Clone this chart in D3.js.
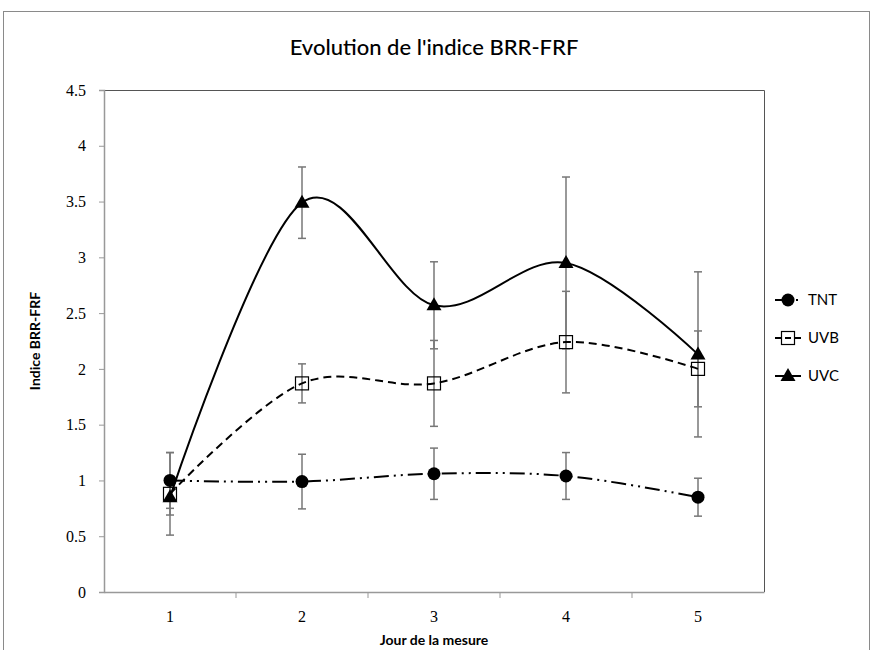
<html>
<head>
<title>Evolution de l'indice BRR-FRF</title>
<style>
  body { margin: 0; padding: 0; background: #fff; }
  .tick text { font-family: "Liberation Serif", "DejaVu Serif", serif; font-size: 16px; fill: #000; }
  .title { font-family: Lato, "Open Sans", sans-serif; font-size: 22px; font-weight: 500; fill: #000; }
  .axis-title { font-family: Lato, "Open Sans", sans-serif; font-size: 14px; font-weight: bold; fill: #000; }
  .legend text { font-family: Lato, "Open Sans", sans-serif; font-size: 15px; fill: #000; }
</style>
</head>
<body>
<div id="chart"></div>
<script src="https://d3js.org/d3.v7.min.js"></script>
<script>
const days = ["1", "2", "3", "4", "5"];
const yTicks = [0, 0.5, 1, 1.5, 2, 2.5, 3, 3.5, 4, 4.5];

const tntValues = [1.0, 0.99, 1.06, 1.04, 0.85];
const tntErrors = [0.25, 0.245, 0.23, 0.21, 0.17];
const uvbValues = [0.88, 1.87, 1.87, 2.24, 2.0];
const uvbErrors = [0.37, 0.175, 0.385, 0.455, 0.34];
const uvcValues = [0.85, 3.49, 2.57, 2.95, 2.13];
const uvcErrors = [0.16, 0.32, 0.39, 0.77, 0.74];

const series = [
  { name: "TNT", values: tntValues, errors: tntErrors, marker: "circle", dash: "15,5,2,5,2,5" },
  { name: "UVB", values: uvbValues, errors: uvbErrors, marker: "square", dash: "8,5" },
  { name: "UVC", values: uvcValues, errors: uvcErrors, marker: "triangle", dash: null }
];

const W = 873, H = 650;
const plotLeft = 104, plotRight = 764, plotTop = 90, plotBottom = 592;

const svg = d3.select("#chart").append("svg")
  .attr("width", W).attr("height", H);

// outer frame
svg.append("rect")
  .attr("x", 3.5).attr("y", 11.5)
  .attr("width", 866).attr("height", 660)
  .attr("fill", "none").attr("stroke", "#8a8a8a").attr("stroke-width", 1);

const x = d3.scaleBand().domain(days).range([plotLeft, plotRight]);
const cx = d => x(d) + x.bandwidth() / 2;
const y = d3.scaleLinear().domain([0, 4.5]).range([plotBottom, plotTop]);

// plot area border (top + right)
svg.append("path")
  .attr("d", `M${plotLeft},${plotTop + 0.5}H${plotRight + 0.5}V${plotBottom}`)
  .attr("fill", "none").attr("stroke", "#555").attr("stroke-width", 1);

// y axis
const yAxis = svg.append("g")
  .attr("transform", `translate(${plotLeft},0)`)
  .call(d3.axisLeft(y).tickValues(yTicks).tickSize(5).tickPadding(13).tickFormat(d3.format("")));
yAxis.select(".domain").attr("stroke", "#999").attr("stroke-width", 1.5);
yAxis.selectAll(".tick line").attr("stroke", "#999");

// x axis: ticks at category boundaries
const xAxis = svg.append("g")
  .attr("transform", `translate(0,${plotBottom})`)
  .call(d3.axisBottom(x).tickSize(0).tickPadding(19));
xAxis.select(".domain").attr("stroke", "#999").attr("stroke-width", 1.5);
xAxis.selectAll(".bound").data(days.slice(1))
  .enter().append("line")
  .attr("x1", d => x(d)).attr("x2", d => x(d))
  .attr("y1", 0).attr("y2", 6)
  .attr("stroke", "#999");

// titles
svg.append("text").attr("class", "title")
  .attr("x", 434).attr("y", 55).attr("text-anchor", "middle")
  .text("Evolution de l'indice BRR-FRF");
svg.append("text").attr("class", "axis-title")
  .attr("x", 434).attr("y", 645).attr("text-anchor", "middle")
  .text("Jour de la mesure");
svg.append("text").attr("class", "axis-title")
  .attr("transform", `translate(40,${(plotTop + plotBottom) / 2}) rotate(-90)`)
  .attr("text-anchor", "middle")
  .text("Indice BRR-FRF");

// error bars
series.forEach(s => {
  const g = svg.append("g");
  days.forEach((d, i) => {
    const hi = y(s.values[i] + s.errors[i]);
    const lo = y(s.values[i] - s.errors[i]);
    g.append("line").attr("x1", cx(d)).attr("x2", cx(d)).attr("y1", hi).attr("y2", lo)
      .attr("stroke", "#777").attr("stroke-width", 1.5);
    [hi, lo].forEach(v => g.append("line")
      .attr("x1", cx(d) - 4).attr("x2", cx(d) + 4).attr("y1", v).attr("y2", v)
      .attr("stroke", "#777").attr("stroke-width", 1.5));
  });
});

const line = d3.line()
  .x((v, i) => cx(days[i]))
  .y(v => y(v))
  .curve(d3.curveCardinal.tension(0));

function drawMarker(g, type, px, py) {
  if (type === "circle") {
    g.append("circle").attr("cx", px).attr("cy", py).attr("r", 6.5).attr("fill", "#000");
  } else if (type === "square") {
    g.append("rect").attr("x", px - 6.5).attr("y", py - 6.5).attr("width", 13).attr("height", 13)
      .attr("fill", "none").attr("stroke", "#000").attr("stroke-width", 1.2);
  } else {
    g.append("path").attr("d", `M${px},${py - 8}L${px + 7.5},${py + 5}L${px - 7.5},${py + 5}Z`)
      .attr("fill", "#000");
  }
}

series.forEach(s => {
  svg.append("path")
    .attr("d", line(s.values))
    .attr("fill", "none").attr("stroke", "#000").attr("stroke-width", 2)
    .attr("stroke-dasharray", s.dash);
  const g = svg.append("g");
  days.forEach((d, i) => drawMarker(g, s.marker, cx(d), y(s.values[i])));
});

// legend
const legend = svg.append("g").attr("class", "legend");
series.forEach((s, i) => {
  const ly = 300 + i * 38;
  legend.append("line").attr("x1", 775).attr("x2", 801).attr("y1", ly).attr("y2", ly)
    .attr("stroke", "#000").attr("stroke-width", 2).attr("stroke-dasharray", s.dash ? (s.name === "TNT" ? "11,4,2,4,2,4" : "6,4") : null);
  drawMarker(legend, s.marker, 788, ly);
  legend.append("text").attr("x", 808).attr("y", ly + 5).text(s.name);
});
</script>
</body>
</html>
